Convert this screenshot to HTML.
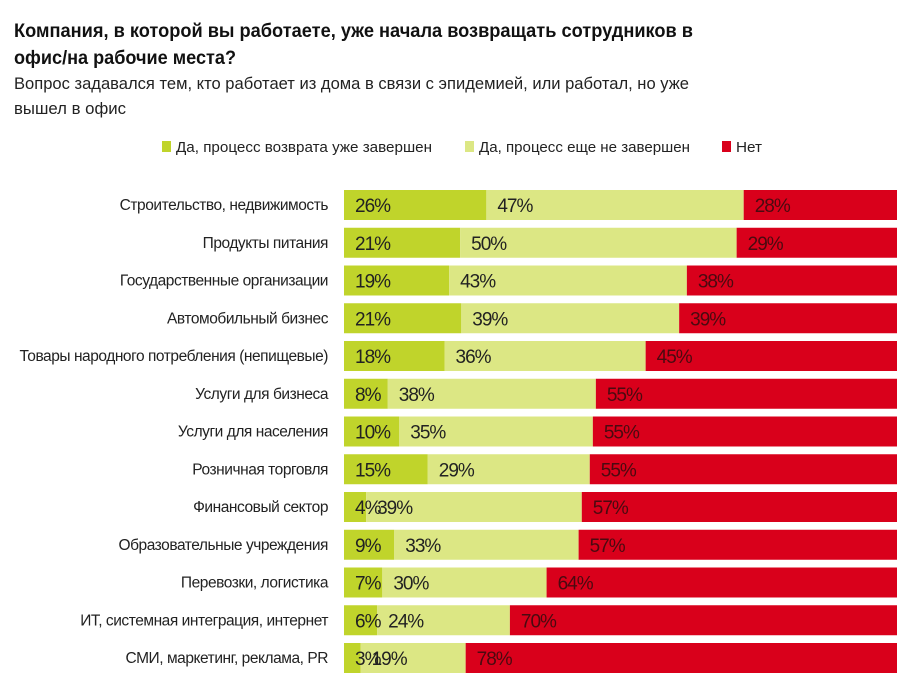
<!DOCTYPE html>
<html><head><meta charset="utf-8"><style>
body{margin:0;background:#fff;}
svg{display:block;font-family:"Liberation Sans",sans-serif;}
</style></head><body>
<svg id="chart" width="903" height="678" viewBox="0 0 903 678">
<text x="14" y="37" font-size="19" font-weight="bold" fill="#111" textLength="679" lengthAdjust="spacingAndGlyphs">Компания, в которой вы работаете, уже начала возвращать сотрудников в</text>
<text x="14" y="64" font-size="19" font-weight="bold" fill="#111" textLength="222" lengthAdjust="spacingAndGlyphs">офис/на рабочие места?</text>
<text x="14" y="89" font-size="17" fill="#222" textLength="675" lengthAdjust="spacingAndGlyphs">Вопрос задавался тем, кто работает из дома в связи с эпидемией, или работал, но уже</text>
<text x="14" y="114" font-size="17" fill="#222" textLength="112" lengthAdjust="spacingAndGlyphs">вышел в офис</text>
<g>
<rect x="162" y="141" width="9" height="11" fill="#c0d42b"/>
<text x="176" y="152" font-size="15" fill="#222" textLength="256" lengthAdjust="spacingAndGlyphs">Да, процесс возврата уже завершен</text>
<rect x="465" y="141" width="9" height="11" fill="#dce784"/>
<text x="479" y="152" font-size="15" fill="#222" textLength="211" lengthAdjust="spacingAndGlyphs">Да, процесс еще не завершен</text>
<rect x="722" y="141" width="9" height="11" fill="#d9001b"/>
<text x="736" y="152" font-size="15" fill="#222" textLength="26" lengthAdjust="spacingAndGlyphs">Нет</text>
</g>
<g id="bars"></g>
</svg>
<script>
const categories=["Строительство, недвижимость","Продукты питания","Государственные организации","Автомобильный бизнес","Товары народного потребления (непищевые)","Услуги для бизнеса","Услуги для населения","Розничная торговля","Финансовый сектор","Образовательные учреждения","Перевозки, логистика","ИТ, системная интеграция, интернет","СМИ, маркетинг, реклама, PR"];
const doneValues=[26,21,19,21,18,8,10,15,4,9,7,6,3];
const ongoingValues=[47,50,43,39,36,38,35,29,39,33,30,24,19];
const noValues=[28,29,38,39,45,55,55,55,57,57,64,70,78];
const seriesNames=["done","ongoing","no"];
const colors=["#c0d42b","#dce784","#d9001b"];
const textColors=["#222","#222","#4a0a10"];
const x0=344,x1=897,top0=190,step=37.75,bh=30;
const g=document.getElementById('bars');
const NS="http://www.w3.org/2000/svg";
categories.forEach((c,i)=>{
  const vals=[doneValues[i],ongoingValues[i],noValues[i]];
  const sum=vals[0]+vals[1]+vals[2];
  const y=top0+i*step;
  const lab=document.createElementNS(NS,'text');
  
  
  lab.setAttribute('x',328);lab.setAttribute('y',y+bh/2+5);
  lab.setAttribute('text-anchor','end');lab.setAttribute('font-size','15.5');
  lab.setAttribute('fill','#222');lab.setAttribute('letter-spacing','-0.45');
  lab.textContent=c;g.appendChild(lab);
  let acc=0;
  vals.forEach((v,k)=>{
    const xs=x0+(x1-x0)*acc/sum, w=(x1-x0)*v/sum;
    const r=document.createElementNS(NS,'rect');
    
    
    r.setAttribute('x',xs);r.setAttribute('y',y);r.setAttribute('width',w);r.setAttribute('height',bh);
    r.setAttribute('fill',colors[k]);g.appendChild(r);
    acc+=v;
  });
  acc=0;
  vals.forEach((v,k)=>{
    const xs=x0+(x1-x0)*acc/sum;
    const t=document.createElementNS(NS,'text');
    
    
    t.setAttribute('x',xs+11);t.setAttribute('y',y+bh/2+7);
    t.setAttribute('font-size','19');t.setAttribute('fill',textColors[k]);
    t.setAttribute('letter-spacing','-1');
    t.textContent=v+'%';g.appendChild(t);
    acc+=v;
  });
});
</script>
</body></html>
